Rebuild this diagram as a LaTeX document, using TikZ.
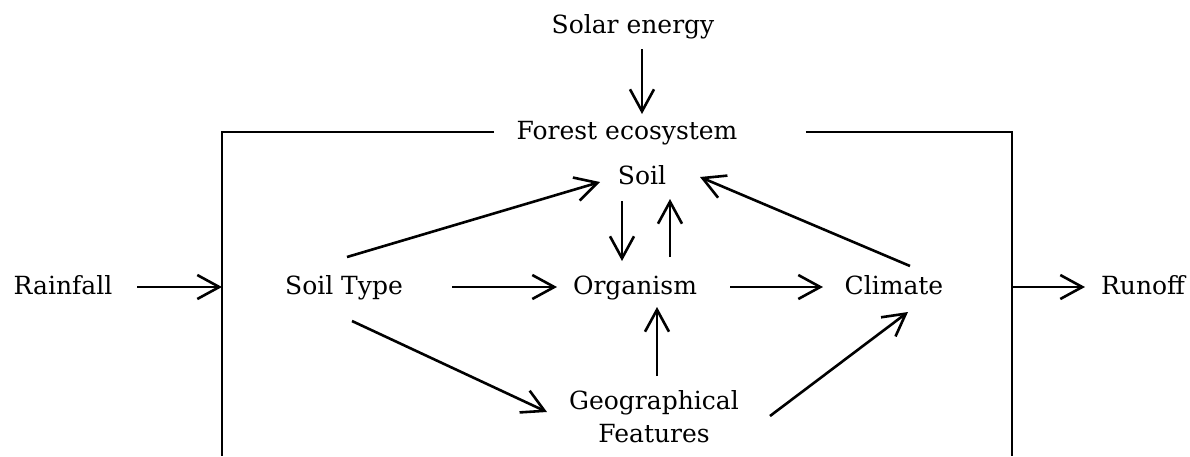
\documentclass[tikz,border=0pt]{standalone}
\usepackage{fontspec}
\setmainfont{DejaVu Serif}
\usetikzlibrary{positioning,arrows.meta,calc}

\begin{document}
\begin{tikzpicture}[
  font=\fontsize{12.5}{16.5}\selectfont,
  >={Straight Barb[length=11pt,width=12pt]},
  term/.style={inner sep=0pt, text height=1em, text depth=0.27em},
  twoline/.style={inner sep=0pt, align=center},
  flow/.style={->, line width=1.3pt},
  frame/.style={line width=1.4pt},
  on grid,
]
\useasboundingbox (0,0) rectangle (595pt,-228pt);

% Middle row
\node[term] (organism) at (317.5pt,-143.5pt) {Organism};
\node[term, left=145.5pt of organism]  (soiltype) {Soil Type};
\node[term, right=129.5pt of organism] (climate)  {Climate};
\node[term, left=140.5pt of soiltype]  (rainfall) {Rainfall};
\node[term, right=124.5pt of climate]  (runoff)   {Runoff};

% Column above and below
\node[term, above=55pt of organism, xshift=3.5pt] (soil)   {Soil};
\node[term, above=22.5pt of soil, xshift=-7.5pt]  (forest) {Forest ecosystem};
\node[term, above=53pt of forest, xshift=3pt]     (solar)  {Solar energy};
\node[twoline, below=65pt of organism, xshift=9.5pt] (geo)
  {Geographical\\Features};

% --- Ecosystem frame, open at the bottom ---
\coordinate (sw) at (111pt,-228pt);
\coordinate (se) at (506pt,-228pt);
\draw[frame] ($(forest.west)+(-11pt,0)$) -| (sw);
\draw[frame] ($(forest.east)+(34pt,0)$) -| (se);

% --- Inputs and outputs ---
\draw[flow] ($(solar)+(4.5pt,-11.5pt)$) -- ($(forest)+(7.5pt,9pt)$);
\draw[flow] ($(rainfall)+(37pt,0)$) -- (rainfall -| sw);
\draw[flow] (runoff -| se) -- ($(runoff)+(-29pt,0)$);

% --- Factors inside the ecosystem ---
\draw[flow] ($(soiltype)+(1.5pt,15pt)$) -- ($(soil)+(-21pt,-2.5pt)$);
\draw[flow] ($(soiltype)+(54pt,0)$) -- ($(organism)+(-39pt,0)$);
\draw[flow] ($(soiltype)+(4pt,-17pt)$) -- ($(geo)+(-53.5pt,2.5pt)$);
\draw[flow] ($(organism)+(47.5pt,0)$) -- ($(climate)+(-35.5pt,0)$);
\draw[flow] ($(climate)+(8pt,10.5pt)$) -- ($(soil)+(29pt,0)$);
\draw[flow] ($(soil)+(-10pt,-12pt)$) -- ($(organism)+(-6.5pt,13pt)$);
\draw[flow] ($(organism)+(17.5pt,15pt)$) -- ($(soil)+(14pt,-11pt)$);
\draw[flow] ($(geo)+(1.5pt,20.5pt)$) -- ($(organism)+(11pt,-10pt)$);
\draw[flow] ($(geo)+(58pt,0.5pt)$) -- ($(climate)+(7pt,-12.5pt)$);

\end{tikzpicture}
\end{document}
